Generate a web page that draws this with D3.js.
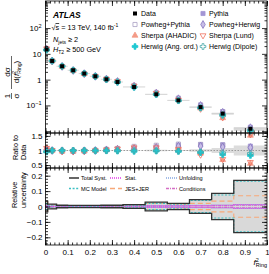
<!DOCTYPE html>
<html><head><meta charset="utf-8">
<script src="https://cdn.jsdelivr.net/npm/d3@7"></script>
<style>
body{margin:0;background:#fff}
svg{display:block;font-family:"Liberation Sans",Arial,Helvetica,sans-serif}
</style>
</head><body>
<svg id="c" width="269" height="274"></svg>
<script>
// bins of f^2_Ring
var binEdges = [0,0.01,0.05,0.1,0.15,0.2,0.25,0.3,0.35,0.45,0.55,0.65,0.75,0.85,1.0];
var dataVals = [14.8,5.3,3.3,2.31,1.72,1.35,1.03,0.81,0.52,0.27,0.157,0.086,0.048,0.0124];

// MC / data ratios
var pythia       = [1.05,1.00,0.98,0.97,0.98,1.00,1.02,1.05,1.08,1.12,1.18,1.20,1.20,1.15];
var powhegPythia = [1.06,1.00,0.98,0.98,0.99,1.01,1.04,1.07,1.14,1.18,1.22,1.21,1.18,1.08];
var sherpaAhadic = [1.08,1.00,0.97,0.97,0.98,1.00,1.03,1.06,1.10,1.12,1.10,0.90,0.68,0.55];
var powhegHerwig = [1.02,1.00,0.99,0.98,0.99,1.00,1.02,1.04,1.06,1.10,1.15,1.15,1.12,1.10];
var sherpaLund   = [1.08,1.01,0.97,0.97,0.98,1.00,1.03,1.06,1.10,1.10,1.05,0.85,0.70,0.60];
var herwigAng    = [0.95,1.00,1.00,1.00,1.00,0.99,0.99,0.98,0.97,0.98,0.97,0.93,0.86,0.83];
var herwigDipole = [0.97,1.00,1.00,1.00,1.00,1.00,1.00,1.00,1.00,1.00,0.98,0.95,0.92,0.90];

// relative uncertainties
var totalSyst  = [0.035,0.015,0.008,0.007,0.007,0.007,0.008,0.008,0.012,0.028,0.020,0.045,0.085,0.170];
var statUnc    = [0.004,0.002,0.002,0.002,0.002,0.002,0.002,0.003,0.003,0.004,0.005,0.006,0.008,0.012];
var mcModel    = [0.020,0.010,0.005,0.004,0.004,0.004,0.005,0.005,0.008,0.020,0.015,0.040,0.075,0.165];
var jesJer     = [0.030,0.012,0.006,0.005,0.005,0.005,0.006,0.006,0.010,0.020,0.015,0.020,0.035,0.070];
var unfolding  = [0.010,0.004,0.003,0.003,0.003,0.003,0.003,0.003,0.004,0.005,0.006,0.008,0.010,0.012];
var conditions = [0.006,0.003,0.002,0.002,0.002,0.002,0.002,0.002,0.003,0.004,0.004,0.005,0.006,0.008];

var xMajor = [0,0.1,0.2,0.3,0.4,0.5,0.6,0.7,0.8,0.9,1];
var xLabels = ["0","0.1","0.2","0.3","0.4","0.5","0.6","0.7","0.8","0.9","1"];

var svg = d3.select("#c");
var L = 45.5, R = 267;
var x = d3.scaleLinear().domain([0,1]).range([L,R]);
var yTop = d3.scaleLog().domain([Math.pow(10,-2.07), Math.pow(10,3.05)]).range([133,1]);
var yRat = d3.scaleLinear().domain([0.4,1.6]).range([168,133]);
var yUnc = d3.scaleLinear().domain([-0.25,0.25]).range([245,168]);

var centers = d3.range(dataVals.length).map(i => (binEdges[i]+binEdges[i+1])/2);

var mcs = [
  {name:"Pythia", r:pythia, sym:d3.symbolSquare, size:17, fill:"#a396d4", stroke:"#a396d4"},
  {name:"Powheg+Pythia", r:powhegPythia, sym:d3.symbolSquare, size:17, fill:"none", stroke:"#a9a0c4"},
  {name:"Sherpa (AHADIC)", r:sherpaAhadic, sym:d3.symbolTriangle, size:15, fill:"#f49a86", stroke:"#f49a86"},
  {name:"Powheg+Herwig", r:powhegHerwig, sym:d3.symbolDiamond, size:18, fill:"#c7bde6", stroke:"#8675c2"},
  {name:"Sherpa (Lund)", r:sherpaLund, sym:d3.symbolTriangle, size:15, fill:"none", stroke:"#f0705e", rot:180},
  {name:"Herwig (Ang. ord.)", r:herwigAng, sym:d3.symbolCross, size:18, fill:"#1ec8d2", stroke:"#1ec8d2"},
  {name:"Herwig (Dipole)", r:herwigDipole, sym:d3.symbolCross, size:18, fill:"none", stroke:"#48a8a8"}
];

function marker(g, m, px, py) {
  g.append("path")
    .attr("d", d3.symbol().type(m.sym).size(m.size)())
    .attr("transform", "translate(" + px + "," + py + ")" + (m.rot ? " rotate(" + m.rot + ")" : ""))
    .attr("fill", m.fill).attr("stroke", m.stroke).attr("stroke-width", 0.8);
}

function stepPts(vals, sign) {
  var pts = [];
  vals.forEach((v,i) => { pts.push([binEdges[i], sign*v]); pts.push([binEdges[i+1], sign*v]); });
  return pts;
}

// ---------- top panel ----------
var gTop = svg.append("g");
gTop.selectAll("rect.band").data(dataVals).join("rect").attr("class","band")
  .attr("x", (d,i) => x(binEdges[i]))
  .attr("width", (d,i) => x(binEdges[i+1]) - x(binEdges[i]))
  .attr("y", (d,i) => yTop(d*(1+totalSyst[i])))
  .attr("height", (d,i) => yTop(d*(1-totalSyst[i])) - yTop(d*(1+totalSyst[i])))
  .attr("fill", "#dcdcdc");
gTop.selectAll("line.xerr").data(dataVals).join("line").attr("class","xerr")
  .attr("x1", (d,i) => x(binEdges[i])).attr("x2", (d,i) => x(binEdges[i+1]))
  .attr("y1", d => yTop(d)).attr("y2", d => yTop(d))
  .attr("stroke", "#cfcfcf").attr("stroke-width", 0.8);
mcs.forEach(m => {
  dataVals.forEach((d,i) => marker(gTop, m, x(centers[i]), yTop(d*m.r[i])));
});
gTop.selectAll("rect.data").data(dataVals).join("rect").attr("class","data")
  .attr("x", (d,i) => x(centers[i]) - 2).attr("y", d => yTop(d) - 2)
  .attr("width", 4).attr("height", 4).attr("fill", "#000");

// ---------- ratio panel ----------
var gRat = svg.append("g");
gRat.append("path")
  .attr("d", d3.area().x(p => x(p[0])).y0(p => yRat(1-p[1])).y1(p => yRat(1+p[1]))(stepPts(totalSyst, 1)))
  .attr("fill", "#dcdcdc");
gRat.append("line").attr("x1", L).attr("x2", R).attr("y1", yRat(1)).attr("y2", yRat(1))
  .attr("stroke", "#9a9a9a").attr("stroke-width", 1).attr("stroke-dasharray", "1.5,1.5");
mcs.forEach(m => {
  m.r.forEach((r,i) => marker(gRat, m, x(centers[i]), yRat(r)));
});

// ---------- uncertainty panel ----------
var gUnc = svg.append("g");
var lineGen = d3.line().x(p => x(p[0])).y(p => yUnc(p[1]));
gUnc.append("path")
  .attr("d", d3.area().x(p => x(p[0])).y0(p => yUnc(-p[1])).y1(p => yUnc(p[1]))(stepPts(totalSyst, 1)))
  .attr("fill", "#d9d9d9");
var comps = [
  {name:"Total Syst.", v:totalSyst, color:"#333", w:1.3, dash:null},
  {name:"MC Model", v:mcModel, color:"#3ec0c4", w:1.1, dash:"2,1.6"},
  {name:"Stat.", v:statUnc, color:"#e23ee8", w:1.1, dash:"1,1"},
  {name:"JES+JER", v:jesJer, color:"#f7a878", w:1.1, dash:"5,3"},
  {name:"Unfolding", v:unfolding, color:"#86a8e0", w:1.1, dash:"1,1"},
  {name:"Conditions", v:conditions, color:"#d46ec4", w:1.1, dash:"3,1,1,1"}
];
comps.slice().reverse().forEach(c => {
  [1,-1].forEach(s => {
    gUnc.append("path").attr("d", lineGen(stepPts(c.v, s))).attr("fill","none")
      .attr("stroke", c.color).attr("stroke-width", c.w)
      .attr("stroke-dasharray", c.dash);
  });
});

// ---------- frames and axes ----------
var panels = [[1,133],[133,168],[168,245]];
panels.forEach(p => {
  svg.append("rect").attr("x", L).attr("y", p[0]).attr("width", R-L).attr("height", p[1]-p[0])
    .attr("fill","none").attr("stroke","#000").attr("stroke-width",0.8);
});

function axis(gen, scale, vals, size, tr, fmt) {
  var g = svg.append("g").attr("transform", tr)
    .call(gen(scale).tickValues(vals).tickSize(size).tickPadding(3).tickFormat(fmt || (() => "")));
  g.select(".domain").remove();
  g.attr("font-family", null).attr("font-size", 8);
  g.selectAll("line").attr("stroke-width", 0.8);
  return g;
}
var xMinor = d3.range(0,1.001,0.02);
panels.forEach(p => {
  axis(d3.axisBottom, x, xMajor, -5, "translate(0," + p[1] + ")");
  axis(d3.axisBottom, x, xMinor, -2.5, "translate(0," + p[1] + ")");
  axis(d3.axisTop, x, xMajor, -5, "translate(0," + p[0] + ")");
  axis(d3.axisTop, x, xMinor, -2.5, "translate(0," + p[0] + ")");
});
var xl = axis(d3.axisBottom, x, xMajor, 0, "translate(0,245)", (d,i) => xLabels[i]);
xl.selectAll("text").attr("dy", "0.9em");

// top y axis
var logMajor = [0.01,0.1,1,10,100,1000];
var logMinor = [];
logMajor.forEach(d => { for (var k=2;k<10;k++) logMinor.push(d*k/10); });
logMinor = logMinor.filter(v => v >= yTop.domain()[0] && v <= yTop.domain()[1]);
var logMaj = logMajor.filter(v => v >= yTop.domain()[0] && v <= yTop.domain()[1]);
axis(d3.axisLeft, yTop, logMaj, -5, "translate(" + L + ",0)");
axis(d3.axisLeft, yTop, logMinor, -2.5, "translate(" + L + ",0)");
axis(d3.axisRight, yTop, logMaj, -5, "translate(" + R + ",0)");
axis(d3.axisRight, yTop, logMinor, -2.5, "translate(" + R + ",0)");
var yLab = [{v:100, b:"10", s:"2"},{v:10, b:"10", s:""},{v:1, b:"1", s:""},{v:0.1, b:"10", s:"\u22121"}];
yLab.forEach(o => {
  var t = svg.append("text").attr("x", L-4).attr("y", yTop(o.v)+3).attr("text-anchor","end")
    .attr("font-size", 8).text(o.b);
  if (o.s) t.append("tspan").attr("font-size", 5.5).attr("dy", -3.5).text(o.s);
});

// ratio y axis
var ratMajor = [0.5,1,1.5], ratMinor = d3.range(0.4,1.61,0.1);
axis(d3.axisLeft, yRat, ratMajor, -5, "translate(" + L + ",0)", d => d3.format("")(d));
axis(d3.axisLeft, yRat, ratMinor, -2.5, "translate(" + L + ",0)");
axis(d3.axisRight, yRat, ratMajor, -5, "translate(" + R + ",0)");
axis(d3.axisRight, yRat, ratMinor, -2.5, "translate(" + R + ",0)");

// uncertainty y axis
var uncMajor = [-0.2,-0.1,0,0.1,0.2], uncMinor = d3.range(-0.24,0.2401,0.02);
axis(d3.axisLeft, yUnc, uncMajor, -5, "translate(" + L + ",0)", d => d3.format("")(d).replace("-", "\u2212"));
axis(d3.axisLeft, yUnc, uncMinor, -2.5, "translate(" + L + ",0)");
axis(d3.axisRight, yUnc, uncMajor, -5, "translate(" + R + ",0)");
axis(d3.axisRight, yUnc, uncMinor, -2.5, "translate(" + R + ",0)");

// ---------- texts ----------
svg.append("text").attr("x", 53).attr("y", 18).attr("font-size", 8.5)
  .attr("font-weight","bold").attr("font-style","italic").text("ATLAS");
var t1 = svg.append("text").attr("x", 51.5).attr("y", 30).attr("font-size", 7.3);
t1.append("tspan").text("\u221A");
t1.append("tspan").attr("text-decoration","overline").text("s");
t1.append("tspan").text(" = 13 TeV, 140 fb");
t1.append("tspan").attr("font-size", 5).attr("dy", -3).text("-1");
var t2 = svg.append("text").attr("x", 53).attr("y", 41.5).attr("font-size", 7.3);
t2.append("tspan").attr("font-style","italic").text("N");
t2.append("tspan").attr("font-size", 5).attr("dy", 2).text("jets");
t2.append("tspan").attr("dy", -2).text(" \u2265 2");
var t3 = svg.append("text").attr("x", 53).attr("y", 51.5).attr("font-size", 7.3);
t3.append("tspan").attr("font-style","italic").text("H");
t3.append("tspan").attr("font-size", 5).attr("dy", 2).text("T2");
t3.append("tspan").attr("dy", -2).text(" \u2265 500 GeV");

// top legend
var legRows = [13.5, 24.5, 35.5, 46.5];
var legCols = [135, 203];
var legItems = [{name:"Data", data:true}, mcs[0], mcs[1], mcs[3], mcs[2], mcs[4], mcs[5], mcs[6]];
var leg = svg.append("g");
legItems.forEach((m,k) => {
  var cx = legCols[k%2], cy = legRows[Math.floor(k/2)];
  if (m.data) {
    leg.append("rect").attr("x", cx-2).attr("y", cy-2).attr("width",4).attr("height",4).attr("fill","#000");
  } else marker(leg, m, cx, cy);
  leg.append("text").attr("x", cx+6).attr("y", cy+2.6).attr("font-size", 7).text(m.name);
});

// bottom legend
var bRows = [178, 188.5];
var bCols = [[69,79,81],[110,122,125],[166,177,179]];
var bOrder = [comps[0], comps[2], comps[4], comps[1], comps[3], comps[5]];
bOrder.forEach((c,k) => {
  var col = bCols[k%3], cy = bRows[Math.floor(k/3)];
  svg.append("line").attr("x1", col[0]).attr("x2", col[1]).attr("y1", cy).attr("y2", cy)
    .attr("stroke", c.color).attr("stroke-width", c.w+0.2).attr("stroke-dasharray", c.dash);
  svg.append("text").attr("x", col[2]).attr("y", cy+2).attr("font-size", 5.6).text(c.name);
});

// y title top
var yt = svg.append("g").attr("transform", "translate(11.5,78) rotate(-90)").attr("font-size", 8);
yt.append("text").attr("x", -18).attr("y", -1.5).attr("text-anchor","middle").text("1");
yt.append("text").attr("x", -18).attr("y", 7.5).attr("text-anchor","middle").text("\u03C3");
yt.append("line").attr("x1", -21).attr("x2", -15).attr("y1", 0).attr("y2", 0).attr("stroke","#000").attr("stroke-width",0.6);
yt.append("text").attr("x", 6).attr("y", -1.5).attr("text-anchor","middle").text("d\u03C3");
var den = yt.append("text").attr("x", 6).attr("y", 7.5).attr("text-anchor","middle");
den.append("tspan").text("d(");
den.append("tspan").attr("font-style","italic").text("f");
den.append("tspan").attr("font-size", 5).attr("dy", -3.5).text("2");
den.append("tspan").attr("font-size", 5).attr("dx", -2.8).attr("dy", 5).text("Ring");
den.append("tspan").attr("dy", -1.5).text(")");
yt.append("line").attr("x1", -11).attr("x2", 22).attr("y1", 0).attr("y2", 0).attr("stroke","#000").attr("stroke-width",0.6);

// ratio / uncertainty titles
var rt = svg.append("g").attr("transform", "translate(0,160) rotate(-90)").attr("font-size", 7.3);
rt.append("text").attr("x", 0).attr("y", 17.5).text("Ratio to");
rt.append("text").attr("x", 0).attr("y", 25.5).text("Data");
var ut = svg.append("g").attr("transform", "translate(0,208) rotate(-90)").attr("font-size", 7.3);
ut.append("text").attr("x", 0).attr("y", 16.5).text("Relative");
ut.append("text").attr("x", 0).attr("y", 25.5).text("uncertainty");

// x title
var xt = svg.append("text").attr("x", 267).attr("y", 265).attr("text-anchor","end").attr("font-size", 8);
xt.append("tspan").attr("font-style","italic").text("f");
xt.append("tspan").attr("font-size", 5.5).attr("dy", -3.5).text("2");
xt.append("tspan").attr("font-size", 5.5).attr("dx", -3).attr("dy", 5.5).text("Ring");
</script>
</body></html>
